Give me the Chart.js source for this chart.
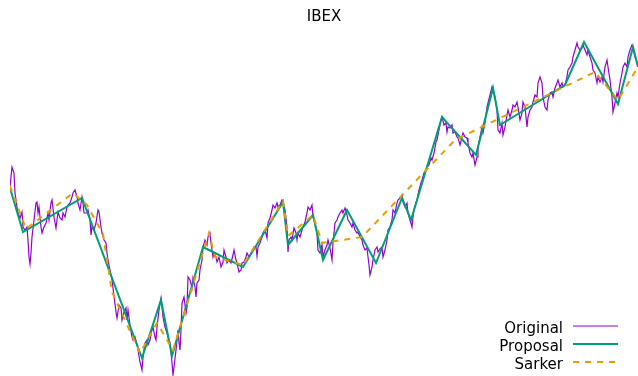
<!DOCTYPE html>
<html>
<head>
    <meta charset="UTF-8">
    <title>IBEX</title>
    <script src="https://cdn.jsdelivr.net/npm/chart.js"></script>
    <style>
        html, body { margin: 0; padding: 0; background: #fff; }
        #wrap { width: 638px; height: 376px; }
    </style>
</head>
<body>
    <div id="wrap"><canvas id="chart"></canvas></div>

    <script>
        // day index and level
        var origX = [0,2,4,5,7,8,10,12,13,15,17,18,19,20,21,22,24,26,27,28,29,31,32,34,36,38,39,41,42,44,46,47,48,50,52,53,55,57,58,60,62,63,65,67,68,70,72,73,74,77,78,80,81,82,84,86,88,89,91,92,94,96,97,98,100,102,103,106,107,109,111,112,114,116,117,118,120,122,123,125,127,128,130,132,133,135,137,138,140,142,143,145,146,147,149,151,152,153,155,157,158,160,161,162,163,164,166,168,169,170,171,172,174,176,177,178,180,182,183,185,186,187,189,190,192,193,195,197,198,200,201,203,204,206,207,209,211,213,214,216,217,219,221,223,224,226,227,229,231,232,234,236,237,239,241,243,244,246,247,248,250,252,253,255,257,258,260,262,263,265,267,268,270,272,273,275,277,278,279,281,282,284,286,287,288,290,292,293,295,297,298,300,302,303,305,307,308,310,312,313,315,317,318,320,322,323,325,327,328,330,332,333,335,337,338,340,342,343,345,347,348,350,352,353,355,357,358,359,360,362,363,365,367,368,370,372,373,375,377,378,380,382,383,385,387,388,390,392,393,395,397,398,400,402,403,404,406,407,409,411,412,414,416,417,419,421,422,424,426,427,429,431,432,434,436,437,438,440,442,443,445,447,448,450,452,453,455,457,458,460,462,463,465,467,468,470,472,473,475,477,478,480,482,483,485,487,488,490,492,493,495,497,498,500,502,503,505,507,508,510,512,513,515,517,518,520,522,523,525,527,528,530,532,533,535,537,538,540,542,543,545,547,548,550,552,553,555,557,558,560,562,563,565,567,568,570,572,573,575,577,578,580,582,583,585,587,588,590,592,593,595,597,598,600,602,603,605,607,608,610,612,613,615,617,618,620,622,623,625,627,628];
        var origY = [213,233,227,207,193,187,182,188,173,170,173,160,143,136,147,163,180,197,198,187,193,173,167,173,177,187,180,197,200,183,172,180,188,182,180,187,183,193,195,197,203,207,210,203,197,190,203,197,187,187,190,180,165,173,170,177,190,188,173,167,160,157,147,140,130,120,112,88,82,95,92,80,88,92,80,90,75,63,60,63,55,50,38,30,43,57,60,55,60,70,73,63,60,73,90,102,93,83,73,67,63,57,47,37,25,33,50,70,57,50,70,97,103,87,93,123,120,112,122,113,103,117,120,130,140,153,160,155,163,167,157,143,147,143,138,143,133,138,150,143,137,140,137,145,150,140,137,128,130,137,138,143,147,143,147,150,153,153,144,153,157,163,167,170,162,177,182,190,195,192,197,193,195,200,198,190,173,148,160,163,160,172,167,160,167,163,170,173,178,187,193,190,195,183,177,167,150,147,155,143,150,155,160,152,140,157,177,180,183,187,190,187,192,185,180,177,173,177,170,167,168,163,160,155,150,152,143,135,125,133,140,150,153,148,151,153,143,150,160,170,173,180,190,187,197,200,202,205,198,193,197,187,180,173,183,190,197,200,210,217,220,227,230,233,235,242,240,247,258,260,270,280,283,275,277,268,273,272,275,267,268,263,262,255,263,267,263,262,257,247,243,247,235,243,253,263,273,267,277,293,297,305,313,310,303,290,270,267,277,265,273,285,290,283,290,295,293,298,293,280,287,298,293,273,283,290,293,298,305,303,317,323,317,303,293,290,300,307,308,303,312,317,320,313,317,313,315,323,330,333,337,343,350,357,353,350,352,355,350,345,350,343,337,330,327,317,323,318,323,318,333,340,333,320,303,288,297,307,303,317,327,333,337,333,343,350,355,352,343,338,333];

        var propX = [0,13,72,132,151,162,193,233,273,278,303,313,337,366,392,401,432,466,483,490,555,574,608,623,628];
        var propY = [212,168,202,42,100,44,153,133,198,155,185,140,190,137,202,180,283,245,312,275,315,358,296,353,333];

        var sarkX = [0,16,63,77,93,102,130,147,163,199,205,233,273,278,303,312,352,445,585,608,628];
        var sarkY = [214,171,207,195,166,108,47,77,50,167,143,135,199,164,185,157,163,260,328,300,333];

        var names = ['Original', 'Proposal', 'Sarker'];
        var colors = ['#9400d3', '#009e73', '#e69f00'];

        function pts(xs, ys) {
            var out = [];
            for (var i = 0; i < xs.length; i++) {
                out.push({ x: xs[i], y: ys[i] });
            }
            return out;
        }

        // gnuplot style key: text right aligned, sample line on its right
        var keyPlugin = {
            id: 'key',
            afterDraw: function(chart) {
                var ctx = chart.ctx;
                var area = chart.chartArea;
                ctx.save();
                ctx.font = '15px "DejaVu Sans"';
                ctx.textAlign = 'right';
                ctx.textBaseline = 'alphabetic';
                for (var i = 0; i < names.length; i++) {
                    var ds = chart.data.datasets[i];
                    var yLine = area.bottom - 50 + i * 18;
                    ctx.fillStyle = '#000';
                    ctx.fillText(names[i], 563, yLine + 7);
                    ctx.beginPath();
                    ctx.strokeStyle = ds.borderColor;
                    ctx.lineWidth = ds.borderWidth;
                    ctx.setLineDash(ds.borderDash || []);
                    ctx.moveTo(573, yLine);
                    ctx.lineTo(618, yLine);
                    ctx.stroke();
                }
                ctx.restore();
            }
        };

        var ctx = document.getElementById('chart').getContext('2d');
        var chart = new Chart(ctx, {
            type: 'line',
            data: {
                datasets: [{
                    label: names[0],
                    data: pts(origX, origY),
                    borderColor: colors[0],
                    borderWidth: 1.2,
                    order: 3
                }, {
                    label: names[1],
                    data: pts(propX, propY),
                    borderColor: colors[1],
                    borderWidth: 2,
                    order: 2
                }, {
                    label: names[2],
                    data: pts(sarkX, sarkY),
                    borderColor: colors[2],
                    borderWidth: 2,
                    borderDash: [6, 6],
                    order: 1
                }]
            },
            options: {
                responsive: true,
                maintainAspectRatio: false,
                animation: false,
                layout: { padding: { left: 10, right: 0, top: 0, bottom: 0 } },
                elements: {
                    point: { radius: 0 },
                    line: { tension: 0, fill: false }
                },
                scales: {
                    x: { type: 'linear', min: 0, max: 628, display: false },
                    y: { type: 'linear', min: 24, max: 370, display: false }
                },
                plugins: {
                    legend: { display: false },
                    tooltip: { enabled: false },
                    title: {
                        display: true,
                        text: 'IBEX',
                        color: '#000',
                        font: { family: 'DejaVu Sans', size: 15, weight: 'normal' },
                        padding: { top: 8, bottom: 4 }
                    }
                }
            },
            plugins: [keyPlugin]
        });
    </script>
</body>
</html>
